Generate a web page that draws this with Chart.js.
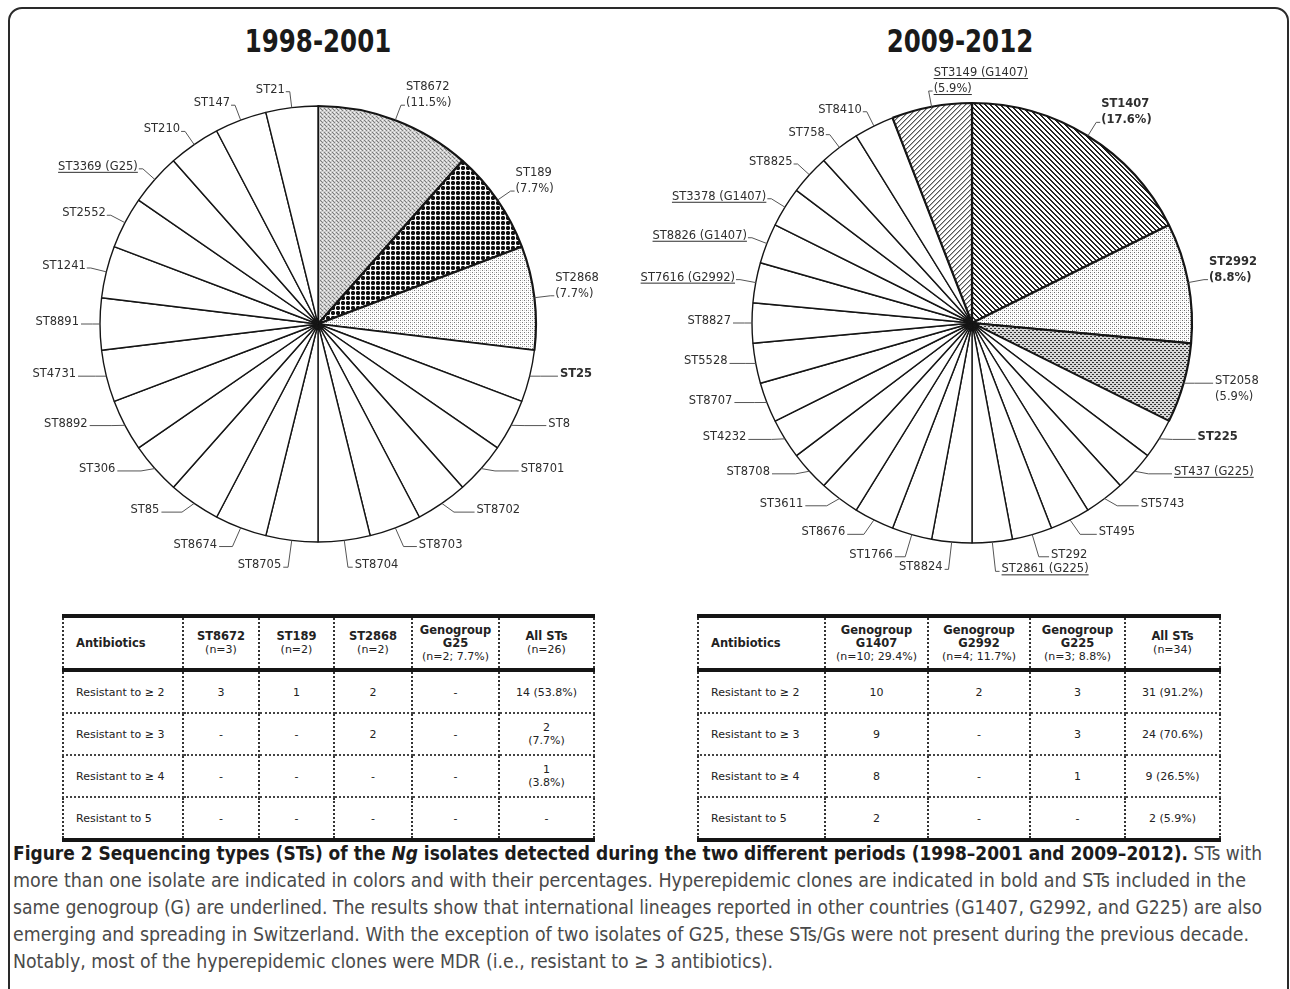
<!DOCTYPE html>
<html>
<head>
<meta charset="utf-8">
<script src="https://cdn.jsdelivr.net/npm/chart.js@4.4.1/dist/chart.umd.min.js"></script>
<style>
  body { margin: 0; background: #fff; }
  #page { position: relative; width: 1290px; height: 989px; overflow: hidden; background: #fff; }
  #frame { position: absolute; left: 8px; top: 7px; width: 1281px; height: 1010px; box-sizing: border-box;
           border: 2px solid #2a2a2a; border-radius: 14px; }
  .period { position: absolute; top: 22px; width: 300px; text-align: center; font: bold 24.5px "DejaVu Sans";
            color: #1a1a1a; transform: scaleY(1.3); transform-origin: center top; }
  canvas.pie { position: absolute; top: 0; }
  table.res { position: absolute; top: 614px; border-collapse: collapse; table-layout: fixed;
              font: 11px "DejaVu Sans"; color: #222; }
  table.res th, table.res td { border-left: 2px dotted #333; border-right: 2px dotted #333; text-align: center;
              padding: 0; line-height: 13px; }
  table.res th { height: 50px; border-top: 4px solid #151515; border-bottom: 4px solid #151515; font-weight: normal; }
  table.res th b { font-size: 11.5px; }
  table.res td { height: 40px; border-bottom: 2px dotted #444; }
  table.res tr:last-child td { border-bottom: 4px solid #151515; }
  table.res th:first-child, table.res td:first-child { text-align: left; padding-left: 12px; }
  #caption { position: absolute; left: 13px; top: 840px; font: 20px "Liberation Sans Narrow", "DejaVu Sans Condensed", sans-serif;
             color: #4a4a4a; }
  #caption .cl { height: 27px; line-height: 27px; white-space: nowrap; }
  #caption .cl span { display: inline-block; transform-origin: left center; }
  #caption b { color: #1b1b1b; }
</style>
</head>
<body>
<div id="page">
  <div id="frame"></div>
  <div class="period" style="left:168px">1998-2001</div>
  <div class="period" style="left:810px">2009-2012</div>
  <canvas class="pie" id="early" width="645" height="600" style="left:0"></canvas>
  <canvas class="pie" id="late" width="700" height="600" style="left:590px"></canvas>
  <table class="res" id="earlyTable" style="left:62px"></table>
  <table class="res" id="lateTable" style="left:697px"></table>
  <div id="caption">
    <div class="cl"><span><b>Figure 2 Sequencing types (STs) of the <i>Ng</i> isolates detected during the two different periods (1998–2001 and 2009–2012).</b> STs with</span></div>
    <div class="cl"><span>more than one isolate are indicated in colors and with their percentages. Hyperepidemic clones are indicated in bold and STs included in the</span></div>
    <div class="cl"><span>same genogroup (G) are underlined. The results show that international lineages reported in other countries (G1407, G2992, and G225) are also</span></div>
    <div class="cl"><span>emerging and spreading in Switzerland. With the exception of two isolates of G25, these STs/Gs were not present during the previous decade.</span></div>
    <div class="cl"><span>Notably, most of the hyperepidemic clones were MDR (i.e., resistant to ≥ 3 antibiotics).</span></div>
  </div>
</div>
<script>
// 1998-2001, clockwise from 12 o'clock
const earlySTs = ['ST8672', 'ST189', 'ST2868', 'ST25', 'ST8', 'ST8701', 'ST8702', 'ST8703', 'ST8704', 'ST8705',
  'ST8674', 'ST85', 'ST306', 'ST8892', 'ST4731', 'ST8891', 'ST1241', 'ST2552', 'ST3369 (G25)', 'ST210', 'ST147', 'ST21'];
const earlyCounts = [3, 2, 2, 1, 1, 1, 1, 1, 1, 1, 1, 1, 1, 1, 1, 1, 1, 1, 1, 1, 1, 1];

// 2009-2012
const lateSTs = ['ST1407', 'ST2992', 'ST2058', 'ST225', 'ST437 (G225)', 'ST5743', 'ST495', 'ST292', 'ST2861 (G225)',
  'ST8824', 'ST1766', 'ST8676', 'ST3611', 'ST8708', 'ST4232', 'ST8707', 'ST5528', 'ST8827', 'ST7616 (G2992)',
  'ST8826 (G1407)', 'ST3378 (G1407)', 'ST8825', 'ST758', 'ST8410', 'ST3149 (G1407)'];
const lateCounts = [6, 3, 2, 1, 1, 1, 1, 1, 1, 1, 1, 1, 1, 1, 1, 1, 1, 1, 1, 1, 1, 1, 1, 1, 2];

const hyperepidemic = ['ST25', 'ST1407', 'ST2992', 'ST225'];

// tables
const earlyHeadNames = ['Antibiotics', 'ST8672', 'ST189', 'ST2868', 'Genogroup\nG25', 'All STs'];
const earlyHeadN = ['', '(n=3)', '(n=2)', '(n=2)', '(n=2; 7.7%)', '(n=26)'];
const earlyRows = [
  ['Resistant to ≥ 2', '3', '1', '2', '-', '14 (53.8%)'],
  ['Resistant to ≥ 3', '-', '-', '2', '-', '2\n(7.7%)'],
  ['Resistant to ≥ 4', '-', '-', '-', '-', '1\n(3.8%)'],
  ['Resistant to 5', '-', '-', '-', '-', '-']
];
const lateHeadNames = ['Antibiotics', 'Genogroup\nG1407', 'Genogroup\nG2992', 'Genogroup\nG225', 'All STs'];
const lateHeadN = ['', '(n=10; 29.4%)', '(n=4; 11.7%)', '(n=3; 8.8%)', '(n=34)'];
const lateRows = [
  ['Resistant to ≥ 2', '10', '2', '3', '31 (91.2%)'],
  ['Resistant to ≥ 3', '9', '-', '3', '24 (70.6%)'],
  ['Resistant to ≥ 4', '8', '-', '1', '9 (26.5%)'],
  ['Resistant to 5', '2', '-', '-', '2 (5.9%)']
];

function makePattern(size, draw) {
  var c = document.createElement('canvas');
  c.width = c.height = size;
  var g = c.getContext('2d');
  g.fillStyle = '#fff';
  g.fillRect(0, 0, size, size);
  draw(g, size);
  return g.createPattern(c, 'repeat');
}
function px(g, col, pts) {
  g.fillStyle = col;
  pts.forEach(p => g.fillRect(p[0], p[1], 1, 1));
}

const fills = {
  'ST8672': makePattern(4, g => { g.fillStyle = '#cdcdcd'; g.fillRect(0, 0, 4, 4); px(g, '#7c7c7c', [[0, 0], [2, 2], [1, 1]]); px(g, '#f4f4f4', [[2, 0], [0, 2]]); }),
  'ST189': makePattern(5, g => { g.fillStyle = '#111'; g.fillRect(1, 1, 4, 4); px(g, '#888', [[1, 1], [4, 1], [1, 4], [4, 4]]); }),
  'ST2868': makePattern(4, g => { px(g, '#7a7a7a', [[0, 0], [2, 2]]); px(g, '#d0d0d0', [[2, 0], [0, 2]]); }),
  'ST1407': makePattern(5, g => { for (var i = 0; i < 5; i++) px(g, '#222', [[i, i], [(i + 1) % 5, i]]); }),
  'ST2992': makePattern(4, g => { px(g, '#6a6a6a', [[0, 0], [2, 2]]); px(g, '#cfcfcf', [[2, 0], [0, 2]]); }),
  'ST2058': makePattern(4, g => { g.fillStyle = '#d8d8d8'; g.fillRect(0, 0, 4, 4); px(g, '#333', [[0, 0], [1, 0], [2, 2], [3, 2]]); }),
  'ST3149 (G1407)': makePattern(5, g => { for (var i = 0; i < 5; i++) { px(g, '#555', [[4 - i, i]]); px(g, '#b0b0b0', [[(5 - i) % 5, i]]); } })
};

function overlap(a, b) {
  return a.x - 3 < b.x + b.w && b.x - 3 < a.x + a.w && a.y < b.y + b.h && b.y < a.y + a.h;
}

// slice labels with leader lines; pushed outwards when they collide
const sliceLabels = {
  id: 'sliceLabels',
  afterDatasetsDraw(chart) {
    const ctx = chart.ctx;
    const meta = chart.getDatasetMeta(0);
    const values = chart.data.datasets[0].data;
    const total = values.reduce((a, b) => a + b, 0);
    const placed = [];
    const lh = 16;
    ctx.save();
    meta.data.forEach((arc, i) => {
      const name = chart.data.labels[i];
      const mid = (arc.startAngle + arc.endAngle) / 2;
      const cx = arc.x, cy = arc.y, r = arc.outerRadius;
      const dx = Math.cos(mid), dy = Math.sin(mid);
      const lines = [name];
      if (values[i] > 1) lines.push('(' + (values[i] / total * 100).toFixed(1) + '%)');
      const bold = hyperepidemic.includes(name);
      const under = name.includes('(G');
      ctx.font = (bold ? 'bold ' : '') + '11.5px "DejaVu Sans"';
      const widths = lines.map(t => ctx.measureText(t).width);
      const w = Math.max(...widths);
      const right = dx >= 0 || lines.length > 1;
      const sg = right ? 1 : -1;
      const hit = dy < 0 ? lines.length - 1 : 0;
      const ax = cx + dx * r, ay = cy + dy * r;
      let box, ex, ey, tickX, textX;
      for (let e = 0; e < 90; e += 2) {
        if (dy <= 0) {
          ex = cx + dx * (r + 16 + e);
          ey = cy + dy * (r + 16 + e);
          tickX = ex + sg * 4;
          textX = ex + sg * 5;
        } else {
          const d6 = Math.pow(dy, 6);
          const g = 16 * (1 - d6) + 5 + 40 * Math.abs(dx) * dy + e * Math.abs(dx);
          ey = ay + 28 * d6 + e * dy;
          ex = ax + sg * g * 0.35;
          tickX = ax + sg * (g - 2);
          textX = ax + sg * g;
        }
        const left = right ? textX : textX - w;
        box = { x: left, y: ey - 8 - hit * lh, w: w, h: lines.length * lh - 2 };
        if (!placed.some(b => overlap(b, box))) break;
      }
      placed.push(box);

      ctx.strokeStyle = '#555';
      ctx.lineWidth = 1;
      ctx.beginPath();
      ctx.moveTo(ax, ay);
      ctx.lineTo(ex, ey);
      ctx.lineTo(tickX, ey);
      ctx.stroke();

      ctx.fillStyle = '#2e2e2e';
      ctx.textBaseline = 'alphabetic';
      lines.forEach((t, k) => {
        const y = ey + 1 + (k - hit) * lh;
        const x = right ? textX : textX - widths[k];
        ctx.fillText(t, x, y);
        if (under) ctx.fillRect(x, y + 2, widths[k], 1);
      });
    });
    ctx.restore();
  }
};

function drawPie(id, names, counts, radius, pad) {
  new Chart(document.getElementById(id), {
    type: 'pie',
    data: {
      labels: names,
      datasets: [{
        data: counts,
        radius: radius,
        backgroundColor: names.map(n => fills[n] || '#ffffff'),
        borderColor: '#151515',
        borderWidth: names.map(n => fills[n] ? 2.2 : 1.4)
      }]
    },
    options: {
      responsive: false,
      animation: false,
      events: [],
      layout: { padding: pad },
      plugins: { legend: { display: false }, tooltip: { enabled: false } }
    },
    plugins: [sliceLabels]
  });
}

drawPie('early', earlySTs, earlyCounts, 218, { left: 0, right: 9, top: 48, bottom: 0 });
drawPie('late', lateSTs, lateCounts, 220, { left: 64, right: 0, top: 46, bottom: 0 });

function cellHtml(t) {
  return t.split('\n').join('<br>');
}
function buildTable(id, names, ns, rows, widths) {
  var html = '<colgroup>' + widths.map(w => '<col style="width:' + w + 'px">').join('') + '</colgroup>';
  html += '<tr>' + names.map((n, i) => '<th><b>' + cellHtml(n) + '</b>' + (ns[i] ? '<br>' + ns[i] : '') + '</th>').join('') + '</tr>';
  rows.forEach(r => {
    html += '<tr>' + r.map(c => '<td>' + cellHtml(c) + '</td>').join('') + '</tr>';
  });
  document.getElementById(id).innerHTML = html;
}
buildTable('earlyTable', earlyHeadNames, earlyHeadN, earlyRows, [120, 76, 75, 78, 87, 95]);
buildTable('lateTable', lateHeadNames, lateHeadN, lateRows, [127, 103, 102, 95, 95]);

// squeeze each caption line to the width it has in the original
var lineWidths = [1249, 1233, 1249, 1236, 760];
document.querySelectorAll('#caption .cl span').forEach((el, i) => {
  var s = lineWidths[i] / el.getBoundingClientRect().width;
  el.style.transform = 'scaleX(' + s + ')';
});
</script>
</body>
</html>
